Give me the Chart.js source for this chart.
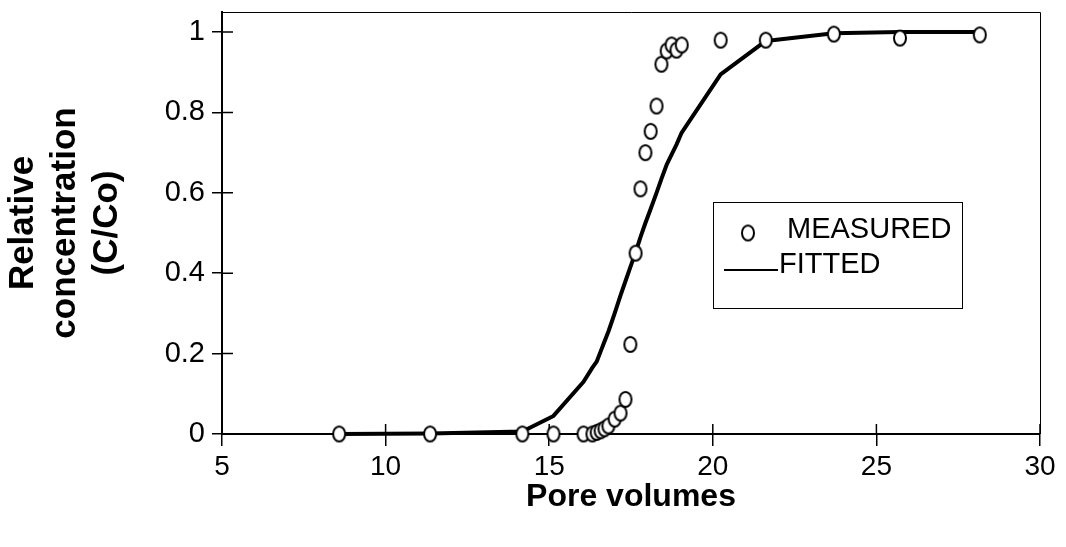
<!DOCTYPE html>
<html>
<head>
<meta charset="utf-8">
<script src="https://cdn.jsdelivr.net/npm/chart.js@4/dist/chart.umd.min.js"></script>
<style>
  html, body { margin: 0; padding: 0; background: #fff; }
  #wrap { width: 1066px; height: 547px; }
</style>
</head>
<body>
<div id="wrap"><canvas id="c" width="1066" height="547"></canvas></div>
<script>
// Breakthrough data: pore volumes vs relative concentration
const poreVolumes = [8.58, 11.36, 14.18, 15.13, 16.05, 16.32, 16.45, 16.57, 16.69, 16.81,
                     17.00, 17.18, 17.33, 17.48, 17.64, 17.79, 17.94, 18.10, 18.28, 18.43,
                     18.59, 18.74, 18.89, 19.05, 20.24, 21.62, 23.70, 25.72, 28.16];
const measured = [0, 0, 0, 0, 0, 0, 0.004, 0.008, 0.013, 0.02,
                  0.037, 0.052, 0.086, 0.223, 0.45, 0.61, 0.70, 0.753, 0.816, 0.92,
                  0.953, 0.968, 0.955, 0.968, 0.98, 0.98, 0.995, 0.985, 0.993];
const fitted = [0, 0.001, 0.006, 0.045, 0.13, 0.165, 0.18, 0.205, 0.23, 0.255,
                0.30, 0.345, 0.38, 0.415, 0.452, 0.49, 0.525, 0.56, 0.60, 0.635,
                0.67, 0.695, 0.72, 0.75, 0.895, 0.978, 0.997, 1.0, 1.0];
const xTickValues = [5, 10, 15, 20, 25, 30];
const yTickValues = [0, 0.2, 0.4, 0.6, 0.8, 1];
const seriesNames = ['MEASURED', 'FITTED'];

const FONT = '"Liberation Sans", Arial, sans-serif';

// open oval marker used for the measured points
function makeMarker() {
  const m = document.createElement('canvas');
  m.width = 16; m.height = 19;
  const g = m.getContext('2d');
  g.beginPath();
  g.ellipse(8, 9.5, 6, 7.5, 0, 0, Math.PI * 2);
  g.fillStyle = '#fff';
  g.fill();
  g.lineWidth = 2;
  g.strokeStyle = '#000';
  g.stroke();
  return m;
}
const marker = makeMarker();

// top/right frame plus the inward half of every tick
const framePlugin = {
  id: 'frame',
  beforeDatasetsDraw(chart) {
    const { ctx, chartArea: a, scales } = chart;
    ctx.save();
    ctx.strokeStyle = '#000';
    ctx.lineWidth = 1;
    ctx.beginPath();
    ctx.moveTo(a.left, a.top + 0.5);
    ctx.lineTo(a.right + 0.5, a.top + 0.5);
    ctx.lineTo(a.right + 0.5, a.bottom);
    ctx.stroke();
    ctx.lineWidth = 1.5;
    ctx.beginPath();
    xTickValues.forEach(v => {
      const px = scales.x.getPixelForValue(v);
      ctx.moveTo(px, a.bottom);
      ctx.lineTo(px, a.bottom - 10);
    });
    yTickValues.forEach(v => {
      const py = scales.y.getPixelForValue(v);
      ctx.moveTo(a.left, py);
      ctx.lineTo(a.left + 11, py);
    });
    ctx.stroke();
    ctx.restore();
  }
};

// boxed legend inside the plot
const legendPlugin = {
  id: 'boxLegend',
  afterDraw(chart) {
    const { ctx } = chart;
    ctx.save();
    ctx.strokeStyle = '#000';
    ctx.lineWidth = 1;
    ctx.strokeRect(713.5, 202.5, 249, 106);
    ctx.drawImage(marker, 748 - marker.width / 2, 233 - marker.height / 2);
    ctx.lineWidth = 2;
    ctx.beginPath();
    ctx.moveTo(724, 270);
    ctx.lineTo(778, 270);
    ctx.stroke();
    ctx.fillStyle = '#000';
    ctx.font = '29px ' + FONT;
    ctx.textBaseline = 'middle';
    ctx.textAlign = 'left';
    ctx.fillText(chart.data.datasets[0].label, 787, 230);
    ctx.fillText(chart.data.datasets[1].label, 779, 265);
    ctx.restore();
  }
};

new Chart(document.getElementById('c'), {
  type: 'scatter',
  data: {
    datasets: [
      {
        label: seriesNames[0],
        data: poreVolumes.map((x, i) => ({ x, y: measured[i] })),
        showLine: false,
        pointStyle: marker,
        pointRadius: 7,
        clip: false
      },
      {
        label: seriesNames[1],
        data: poreVolumes.map((x, i) => ({ x, y: fitted[i] })),
        showLine: true,
        borderColor: '#000',
        borderWidth: 4,
        borderJoinStyle: 'round',
        pointRadius: 0,
        tension: 0,
        clip: false
      }
    ]
  },
  options: {
    responsive: false,
    animation: false,
    devicePixelRatio: 1,
    layout: { padding: { left: 0, top: 12, right: 26, bottom: 0 } },
    plugins: { legend: { display: false }, tooltip: { enabled: false } },
    scales: {
      x: {
        type: 'linear',
        min: 5, max: 30,
        afterBuildTicks: s => { s.ticks = xTickValues.map(v => ({ value: v })); },
        ticks: { color: '#000', font: { family: FONT, size: 28 }, padding: 4, maxRotation: 0,
                 callback: v => String(v) },
        grid: { display: true, drawOnChartArea: false, drawTicks: true, tickLength: 12, color: '#000', lineWidth: 1.5 },
        border: { display: true, color: '#000', width: 2 },
        title: {
          display: true, text: 'Pore volumes', color: '#000',
          font: { family: FONT, size: 32, weight: 'bold' },
          padding: { top: 0, bottom: 31 }
        },
        afterFit: s => { s.height = 113; }
      },
      y: {
        type: 'linear',
        min: 0, max: 1.05,
        afterBuildTicks: s => { s.ticks = yTickValues.map(v => ({ value: v })); },
        ticks: { color: '#000', font: { family: FONT, size: 29 }, padding: 7,
                 callback: v => String(v) },
        grid: { display: true, drawOnChartArea: false, drawTicks: true, tickLength: 10, color: '#000', lineWidth: 1.5 },
        border: { display: true, color: '#000', width: 2 },
        title: {
          display: true, text: ['Relative', 'concentration', '(C/Co)'], color: '#000',
          font: { family: FONT, size: 35, weight: 'bold', lineHeight: 1.2 },
          padding: { top: 2, bottom: 0 }
        },
        afterFit: s => { s.width = 222; s.paddingTop = 0; s.paddingBottom = 0; }
      }
    }
  },
  plugins: [framePlugin, legendPlugin]
});
</script>
</body>
</html>
